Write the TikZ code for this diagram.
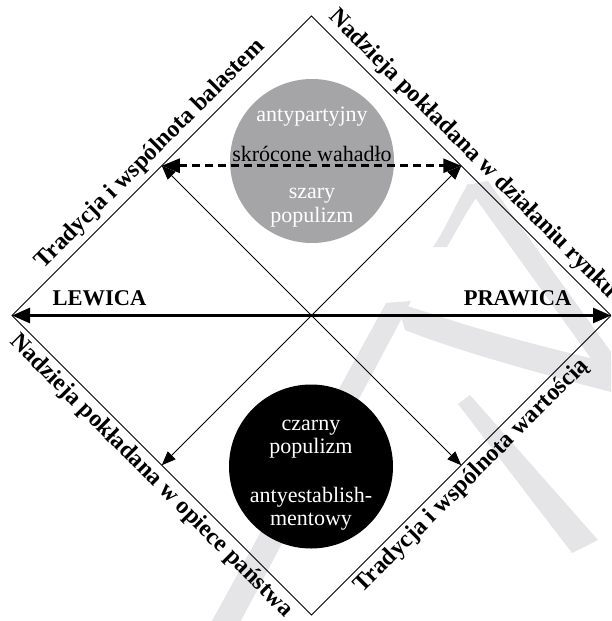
\documentclass[tikz,border=0pt]{standalone}
\usepackage{fontspec}
\setmainfont{Liberation Serif}
\usetikzlibrary{arrows.meta}
\definecolor{circgray}{RGB}{165,165,168}
\definecolor{wmgray}{RGB}{229,229,231}
\begin{document}
\begin{tikzpicture}[x=1pt,y=-1pt,
  thinline/.style={line width=0.9pt},
  thinarrow/.style={line width=0.9pt,-{Triangle[length=14pt,width=11pt]}},
  bigarrow/.style={line width=2.8pt,{Triangle[length=18pt,width=15pt]}-{Triangle[length=18pt,width=15pt]}},
  dasharrow/.style={line width=2.8pt,dash pattern=on 8pt off 5pt,{Triangle[length=18pt,width=14pt]}-{Triangle[length=18pt,width=14pt]}},
  edgelabel/.style={font=\fontsize{24}{28}\selectfont\bfseries, anchor=base, inner sep=0pt},
  sidelabel/.style={font=\fontsize{22.5}{26}\selectfont\bfseries, anchor=base, inner sep=0pt},
  circtext/.style={font=\fontsize{22}{24}\selectfont, anchor=base, inner sep=0pt},
  wm/.style={fill=wmgray, draw=none},
  disc/.style={circle, inner sep=0pt, minimum size=164pt, draw=none}
]
\useasboundingbox (0,0) rectangle (611,621);
\clip (0,0) rectangle (611,621);
% watermark
\fill[wm] (386,303) -- (411,301) -- (236,630) -- (207,630) -- cycle;
\fill[wm] (397,303) .. controls (430,312) and (470,330) .. (611,363) -- (611,392) .. controls (480,358) and (430,340) .. (405,330) -- cycle;
\fill[wm] (466,185) -- (488,181) -- (637,388) -- (615,392) -- cycle;
\fill[wm] (468,184) .. controls (455,205) and (445,230) .. (433,247) -- (447,247) .. controls (458,228) and (470,205) .. (482,190) -- cycle;
\fill[wm] (470,395) -- (598,540) -- (572,553) -- (458,404) -- cycle;
% geometry
\coordinate (T) at (311.5,16);
\coordinate (R) at (611,315.5);
\coordinate (B) at (311.5,615);
\coordinate (L) at (12,315.5);
\coordinate (C) at (311.5,315.5);
\coordinate (mUL) at (161.75,165.75);
\coordinate (mUR) at (461.25,165.75);
\coordinate (mLL) at (161.75,465.25);
\coordinate (mLR) at (461.25,465.25);
% discs
\node[disc, fill=circgray] (gc) at (312,161) {};
\node[disc, fill=black] (bc) at (311,466.5) {};
% diamond
\draw[thinline] (L) -- (T) -- (R) -- (B) -- cycle;
% arrows
\draw[thinarrow] (C) -- (mUL);
\draw[thinarrow] (C) -- (mUR);
\draw[thinarrow] (C) -- (mLL);
\draw[thinarrow] (C) -- (mLR);
\draw[bigarrow] (L) -- (R);
\draw[dasharrow] (mUL) -- (mUR);
% side labels
\node[sidelabel] (lew) at (99.5,305) {LEWICA};
\node[sidelabel] (praw) at (517.5,305) {PRAWICA};
% edge labels
\node[edgelabel, rotate=45] (eUL) at (154.3,158.3) {Tradycja i wspólnota balastem};
\node[edgelabel, rotate=-45] (eUR) at (468.7,158.3) {Nadzieja pokładana w działaniu rynku};
\node[edgelabel, rotate=-45] (eLL) at (146.9,480.1) {Nadzieja pokładana w opiece państwa};
\node[edgelabel, rotate=45] (eLR) at (476.1,480.1) {Tradycja i wspólnota wartością};
% disc texts
\node[circtext, text=white] (g1) at (312,121) {antypartyjny};
\node[circtext, text=black] (g2) at (312,161) {skrócone wahadło};
\node[circtext, text=white] (g3) at (312,198) {szary};
\node[circtext, text=white] (g4) at (312,222) {populizm};
\node[circtext, text=white] (b1) at (311,430) {czarny};
\node[circtext, text=white] (b2) at (311,453) {populizm};
\node[circtext, text=white] (b3) at (311,502) {antyestablish-};
\node[circtext, text=white] (b4) at (311,525) {mentowy};
\end{tikzpicture}
\end{document}
